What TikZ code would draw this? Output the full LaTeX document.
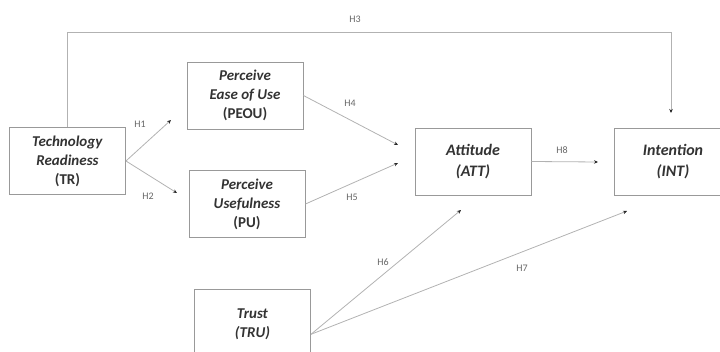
\documentclass[tikz,border=0pt]{standalone}
\usepackage{fontspec}
\setmainfont{Carlito}
\usetikzlibrary{arrows.meta,positioning}

\begin{document}
\begin{tikzpicture}[x=1pt,y=-1pt,
  box/.style={draw=black!40,line width=0.9pt,minimum width=116pt,minimum height=67pt,
    align=center,text=black!80,font=\fontsize{15}{19}\selectfont\bfseries},
  link/.style={draw=black!30,line width=0.8pt,-{Stealth[length=4pt,width=3.5pt,black!85]}},
  hyp/.style={font=\fontsize{10}{11}\selectfont,text=black!60}]
  \useasboundingbox (0,0) rectangle (720,352);
  % constructs
  \node[box] (TR) at (67.5,161) {\textit{Technology}\\\textit{Readiness}\\(TR)};
  \node[box] (PEOU) at (245,95.5) {\textit{Perceive}\\\textit{Ease of Use}\\(PEOU)};
  \node[box] (PU) at (247,204) {\textit{Perceive}\\\textit{Usefulness}\\(PU)};
  \node[box,font=\fontsize{16}{21}\selectfont\bfseries\itshape] (ATT) at (473,161.5) {Attitude\\(ATT)};
  \node[box,minimum width=118pt,font=\fontsize{16}{21}\selectfont\bfseries\itshape] (INT) at (673,161.5) {Intention\\(INT)};
  \node[box,minimum height=70pt] (TRU) at (252.5,324) {\textit{Trust}\\\textit{(TRU)}};
  % arrow ends
  \coordinate (H1end) at (171,120);
  \coordinate (H2end) at (177,193);
  \coordinate (H3end) at (671,113);
  \coordinate (H4end) at (398,145);
  \coordinate (H5end) at (398,163);
  \coordinate (H6end) at (461,210);
  \coordinate (H7end) at (627,211);
  \coordinate (H8end) at (598,162);
  % paths
  \draw[link] (TR.east) -- (H1end);
  \draw[link] (TR.east) -- (H2end);
  \draw[link] (TR.north) -- ++(0,-95) -| (H3end);
  \draw[link] (PEOU.east) -- (H4end);
  \draw[link] (PU.east) -- (H5end);
  \draw[link] (TRU.-10) -- (H6end);
  \draw[link] (TRU.-10) -- (H7end);
  \draw[link] (ATT.east) -- (H8end);
  % labels
  \node[hyp] (h1) at (140,124) {H1};
  \node[hyp] (h2) at (148,196) {H2};
  \node[hyp] (h3) at (355,19) {H3};
  \node[hyp] (h4) at (350,103) {H4};
  \node[hyp] (h5) at (352,197) {H5};
  \node[hyp] (h6) at (383,262) {H6};
  \node[hyp] (h7) at (522,268) {H7};
  \node[hyp] (h8) at (562,150) {H8};
\end{tikzpicture}
\end{document}
